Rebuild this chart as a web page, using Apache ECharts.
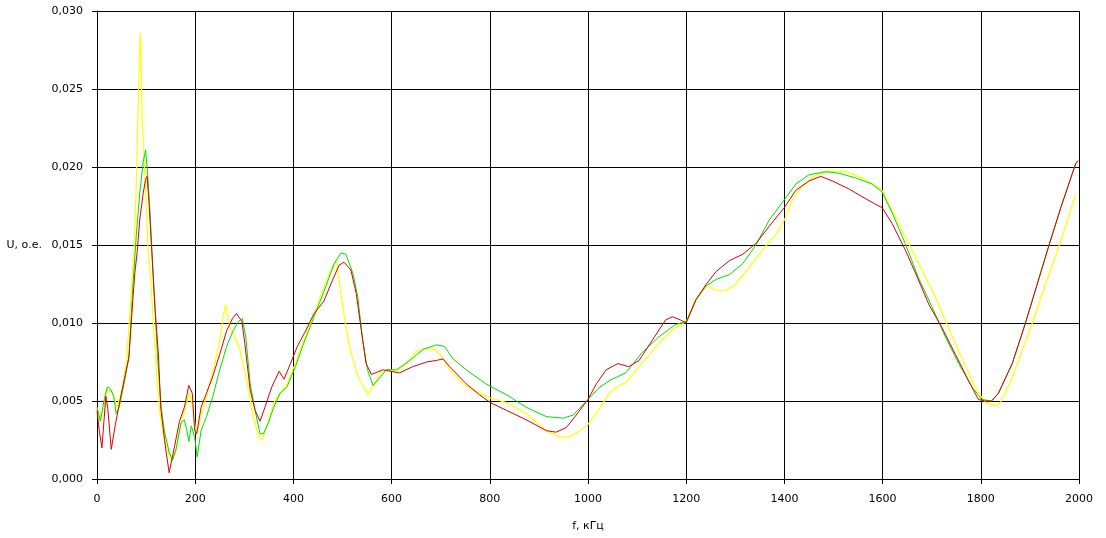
<!DOCTYPE html>
<html>
<head>
<meta charset="utf-8">
<script src="https://cdn.jsdelivr.net/npm/echarts@6/dist/echarts.min.js"></script>
<style>html,body{margin:0;padding:0;background:#fff}#c{width:1106px;height:538px}</style>
</head>
<body>
<div id="c"></div>
<script>
var xTicks = ["0","200","400","600","800","1000","1200","1400","1600","1800","2000"];
var yTicks = ["0,000","0,005","0,010","0,015","0,020","0,025","0,030"];
var xName = "f, кГц";
var yName = "U, о.е.";

var redSeries = [[0,0.0044],[5,0.0030],[10,0.0020],[18,0.0053],[22,0.0045],[29,0.0019],[38,0.0036],[51,0.0057],[65,0.0078],[73,0.0115],[77,0.0132],[82,0.0146],[87,0.0166],[94,0.0183],[99,0.0192],[102,0.0194],[106,0.0177],[111,0.0149],[118,0.0110],[125,0.0080],[130,0.0045],[140,0.0019],[147,0.0004],[158,0.0021],[168,0.0037],[178,0.0046],[187,0.0060],[194,0.0055],[199,0.0031],[203,0.0029],[212,0.0046],[223,0.0055],[236,0.0066],[250,0.0080],[264,0.0095],[276,0.0103],[284,0.0106],[295,0.0101],[301,0.0087],[312,0.0057],[322,0.0044],[332,0.0037],[342,0.0046],[356,0.0059],[371,0.0069],[381,0.0064],[394,0.0074],[408,0.0085],[425,0.0095],[442,0.0106],[462,0.0114],[479,0.0127],[493,0.0137],[503,0.0139],[517,0.0134],[528,0.0119],[538,0.0096],[548,0.0074],[559,0.0067],[582,0.0070],[599,0.0069],[616,0.0068],[643,0.0072],[671,0.0075],[691,0.0076],[705,0.0077],[718,0.0072],[752,0.0061],[779,0.0054],[801,0.0049],[834,0.0044],[874,0.0038],[915,0.0031],[935,0.0030],[956,0.0033],[976,0.0041],[1000,0.0051],[1017,0.0061],[1037,0.0070],[1061,0.0074],[1083,0.0072],[1104,0.0076],[1131,0.0089],[1158,0.0102],[1172,0.0104],[1188,0.0102],[1200,0.0100],[1220,0.0115],[1241,0.0125],[1261,0.0133],[1288,0.0140],[1315,0.0144],[1342,0.0151],[1369,0.0162],[1400,0.0174],[1423,0.0185],[1450,0.0191],[1474,0.0194],[1498,0.0191],[1531,0.0186],[1558,0.0181],[1586,0.0176],[1599,0.0174],[1619,0.0164],[1646,0.0147],[1667,0.0132],[1694,0.0112],[1721,0.0097],[1748,0.0080],[1775,0.0063],[1795,0.0051],[1809,0.0050],[1822,0.0050],[1836,0.0055],[1864,0.0074],[1891,0.0100],[1915,0.0125],[1939,0.0150],[1963,0.0174],[1993,0.0202],[1998,0.0204]];

var greenSeries = [[0,0.0046],[7,0.0037],[14,0.0050],[21,0.0059],[27,0.0058],[34,0.0053],[39,0.0042],[45,0.0046],[55,0.0061],[65,0.0078],[73,0.0123],[80,0.0156],[87,0.0183],[94,0.0203],[99,0.0211],[103,0.0196],[108,0.0171],[112,0.0146],[118,0.0110],[123,0.0080],[130,0.0048],[137,0.0031],[147,0.0017],[154,0.0012],[161,0.0019],[171,0.0036],[178,0.0038],[183,0.0031],[187,0.0024],[192,0.0034],[199,0.0027],[204,0.0014],[212,0.0031],[223,0.0040],[236,0.0053],[250,0.0070],[264,0.0085],[277,0.0095],[288,0.0101],[296,0.0103],[303,0.0091],[312,0.0061],[322,0.0044],[332,0.0029],[339,0.0029],[349,0.0036],[360,0.0046],[373,0.0055],[387,0.0059],[404,0.0072],[421,0.0087],[442,0.0104],[462,0.0120],[483,0.0138],[497,0.0145],[507,0.0144],[521,0.0132],[531,0.0117],[541,0.0089],[551,0.0070],[562,0.0060],[576,0.0065],[589,0.0070],[610,0.0070],[637,0.0076],[664,0.0083],[691,0.0086],[708,0.0085],[725,0.0077],[752,0.0070],[792,0.0061],[834,0.0054],[874,0.0046],[915,0.0040],[949,0.0039],[970,0.0041],[1000,0.0051],[1024,0.0059],[1049,0.0064],[1077,0.0068],[1110,0.0081],[1144,0.0091],[1178,0.0099],[1200,0.0101],[1220,0.0115],[1241,0.0124],[1261,0.0128],[1288,0.0131],[1315,0.0138],[1342,0.0150],[1369,0.0166],[1400,0.0179],[1423,0.0189],[1450,0.0195],[1484,0.0197],[1511,0.0196],[1545,0.0193],[1579,0.0189],[1599,0.0184],[1619,0.0171],[1646,0.0151],[1673,0.0129],[1701,0.0110],[1728,0.0091],[1755,0.0074],[1782,0.0059],[1802,0.0051],[1822,0.0050],[1836,0.0055],[1864,0.0074],[1891,0.0100],[1915,0.0125],[1939,0.0150],[1963,0.0174],[1993,0.0202],[1998,0.0204]];

var yellowSeries = [[0,0.0046],[5,0.0038],[14,0.0046],[21,0.0057],[31,0.0056],[41,0.0046],[51,0.0057],[60,0.0075],[66,0.0102],[75,0.0145],[80,0.0188],[84,0.0241],[88,0.0286],[90,0.0274],[92,0.0231],[96,0.0205],[101,0.0170],[104,0.0146],[110,0.0125],[118,0.0083],[127,0.0044],[137,0.0025],[151,0.0012],[161,0.0019],[171,0.0036],[180,0.0046],[188,0.0055],[195,0.0046],[202,0.0029],[212,0.0040],[226,0.0057],[240,0.0074],[250,0.0089],[257,0.0104],[262,0.0112],[271,0.0097],[281,0.0091],[291,0.0083],[305,0.0063],[318,0.0040],[329,0.0027],[336,0.0025],[346,0.0034],[360,0.0049],[373,0.0055],[387,0.0061],[404,0.0074],[421,0.0089],[442,0.0106],[462,0.0123],[479,0.0136],[487,0.0140],[501,0.0109],[514,0.0085],[531,0.0066],[552,0.0054],[562,0.0059],[576,0.0068],[593,0.0070],[610,0.0069],[630,0.0074],[650,0.0082],[671,0.0084],[688,0.0083],[701,0.0079],[718,0.0070],[745,0.0061],[772,0.0056],[801,0.0052],[834,0.0049],[874,0.0042],[915,0.0031],[942,0.0027],[963,0.0027],[983,0.0031],[1000,0.0035],[1017,0.0042],[1037,0.0052],[1049,0.0057],[1077,0.0062],[1110,0.0074],[1144,0.0087],[1178,0.0097],[1200,0.0101],[1220,0.0115],[1241,0.0124],[1261,0.0121],[1281,0.0121],[1301,0.0125],[1329,0.0136],[1356,0.0147],[1383,0.0157],[1400,0.0166],[1416,0.0179],[1437,0.0188],[1464,0.0195],[1491,0.0197],[1525,0.0197],[1558,0.0193],[1586,0.0188],[1599,0.0185],[1626,0.0168],[1653,0.0151],[1680,0.0134],[1707,0.0117],[1734,0.0097],[1761,0.0078],[1788,0.0059],[1809,0.0049],[1829,0.0047],[1840,0.0049],[1864,0.0065],[1905,0.0100],[1932,0.0125],[1960,0.0150],[1993,0.0182]];

var chart = echarts.init(document.getElementById('c'), null, {renderer: 'canvas'});
var font = 'DejaVu Sans';
chart.setOption({
  animation: false,
  backgroundColor: '#ffffff',
  grid: {left: 97, right: 27, top: 11, bottom: 59, containLabel: false},
  xAxis: {
    type: 'value', min: 0, max: 2000, interval: 200,
    name: xName, nameLocation: 'middle', nameGap: 42,
    nameTextStyle: {color: '#000', fontFamily: font, fontSize: 11},
    axisLine: {show: true, lineStyle: {color: '#000', width: 1}},
    axisTick: {show: true, inside: false, length: 5, lineStyle: {color: '#000'}},
    axisLabel: {color: '#000', fontFamily: font, fontSize: 11, margin: 15,
      formatter: function (v) { return xTicks[Math.round(v / 200)]; }},
    splitLine: {show: true, lineStyle: {color: '#000', width: 1}}
  },
  yAxis: {
    type: 'value', min: 0, max: 0.03, interval: 0.005,
    name: yName, nameLocation: 'middle', nameRotate: 0, nameGap: 55,
    nameTextStyle: {color: '#000', fontFamily: font, fontSize: 11, align: 'right'},
    axisLine: {show: true, lineStyle: {color: '#000', width: 1}},
    axisTick: {show: true, inside: false, length: 5, lineStyle: {color: '#000'}},
    axisLabel: {color: '#000', fontFamily: font, fontSize: 11, margin: 14,
      formatter: function (v) { return yTicks[Math.round(v / 0.005)]; }},
    splitLine: {show: true, lineStyle: {color: '#000', width: 1}}
  },
  series: [
    {type: 'line', data: yellowSeries, showSymbol: false, symbol: 'none', lineStyle: {color: '#ffff00', width: 1.2}, z: 3},
    {type: 'line', data: greenSeries, showSymbol: false, symbol: 'none', lineStyle: {color: '#00e000', width: 1}, z: 4},
    {type: 'line', data: redSeries, showSymbol: false, symbol: 'none', lineStyle: {color: '#e00000', width: 1}, z: 5}
  ]
});
</script>
</body>
</html>
